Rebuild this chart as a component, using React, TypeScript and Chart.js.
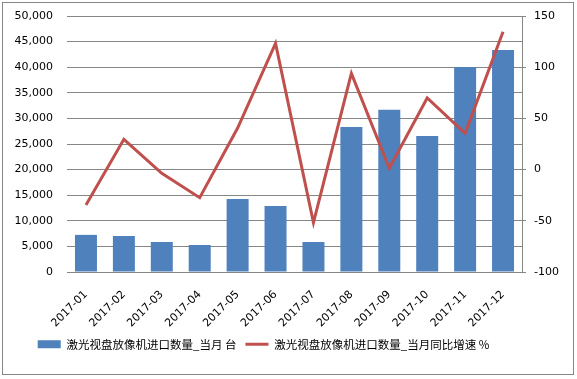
import React, { useEffect, useRef } from "react";
import { Chart, registerables } from "chart.js";

Chart.register(...registerables);

const categories = ["2017-01", "2017-02", "2017-03", "2017-04", "2017-05", "2017-06", "2017-07", "2017-08", "2017-09", "2017-10", "2017-11", "2017-12"];
const importQty = [7250, 7030, 5860, 5270, 14260, 12890, 5860, 28320, 31700, 26560, 40040, 43360];
const yoyGrowth = [-34.6, 29.6, -3.6, -27.4, 40.6, 123.3, -51.8, 94, 1.3, 70, 35.4, 134.7];
const barLabel = "激光视盘放像机进口数量_当月 台";
const lineLabel = "激光视盘放像机进口数量_当月同比增速 %";

const legendShift = {
  id: "legendShift",
  afterLayout(chart: any) {
    const l = chart.legend;
    if (l) {
      l.left -= 25;
      l.right -= 25;
    }
  },
};

export default function App() {
  const ref = useRef<HTMLCanvasElement | null>(null);
  useEffect(() => {
    if (!ref.current) return;
    const font = { family: "'DejaVu Sans', Verdana, sans-serif", size: 11 };
    const chart = new Chart(ref.current, {
      type: "bar",
      data: {
        labels: categories,
        datasets: [
          {
            type: "bar",
            label: barLabel,
            data: importQty,
            backgroundColor: "#4F81BD",
            borderWidth: 0,
            yAxisID: "y",
            barPercentage: 0.58,
            categoryPercentage: 1,
            pointStyle: "rect",
            order: 2,
          },
          {
            type: "line",
            label: lineLabel,
            data: yoyGrowth,
            borderColor: "#C0504D",
            backgroundColor: "#C0504D",
            borderWidth: 3,
            pointRadius: 0,
            tension: 0,
            yAxisID: "y1",
            pointStyle: "line",
            order: 1,
          },
        ] as any,
      },
      plugins: [legendShift],
      options: {
        animation: false,
        responsive: false,
        layout: { padding: { top: 16, left: 0, right: 0, bottom: 19 } },
        plugins: {
          tooltip: { enabled: false },
          legend: {
            position: "bottom",
            labels: {
              usePointStyle: true,
              pointStyleWidth: 23,
              boxHeight: 8,
              color: "#000",
              padding: 9,
              sort: (a: any, b: any) => a.datasetIndex - b.datasetIndex,
              font: { family: "'Noto Sans CJK SC', sans-serif", size: 11.5 },
            },
          },
        },
        scales: {
          x: {
            grid: { display: false },
            border: { display: true, color: "#868686" },
            ticks: { color: "#000", font, minRotation: 45, maxRotation: 45, padding: 8 },
            afterFit: (s: any) => { s.height = 57.5; s.paddingTop = 0; s.paddingBottom = 0; },
          },
          y: {
            position: "left",
            min: 0,
            max: 50000,
            ticks: {
              stepSize: 5000,
              color: "#000",
              font,
              padding: 14,
              callback: (v: any) => Number(v).toLocaleString("en-US"),
            },
            grid: { color: "#868686", drawTicks: false },
            border: { display: false },
            afterFit: (s: any) => { s.width = 67; s.paddingTop = 0; s.paddingBottom = 0; },
          },
          y1: {
            position: "right",
            min: -100,
            max: 150,
            ticks: { stepSize: 50, color: "#000", font, padding: 8 },
            grid: { drawOnChartArea: false, color: "#868686", tickLength: 4 },
            border: { display: true, color: "#868686" },
            afterFit: (s: any) => { s.width = 55; s.paddingTop = 0; s.paddingBottom = 0; },
          },
        },
      } as any,
    });
    return () => chart.destroy();
  }, []);
  return (
    <div style={{ position: "absolute", left: 0, top: 0, width: 577, height: 379, background: "#fff" }}>
      <canvas ref={ref} width={577} height={379} style={{ position: "absolute", left: 0, top: 0 }} />
      <div style={{ position: "absolute", left: 2, top: 2, width: 570, height: 371, border: "1px solid #868686", pointerEvents: "none" }} />
    </div>
  );
}
